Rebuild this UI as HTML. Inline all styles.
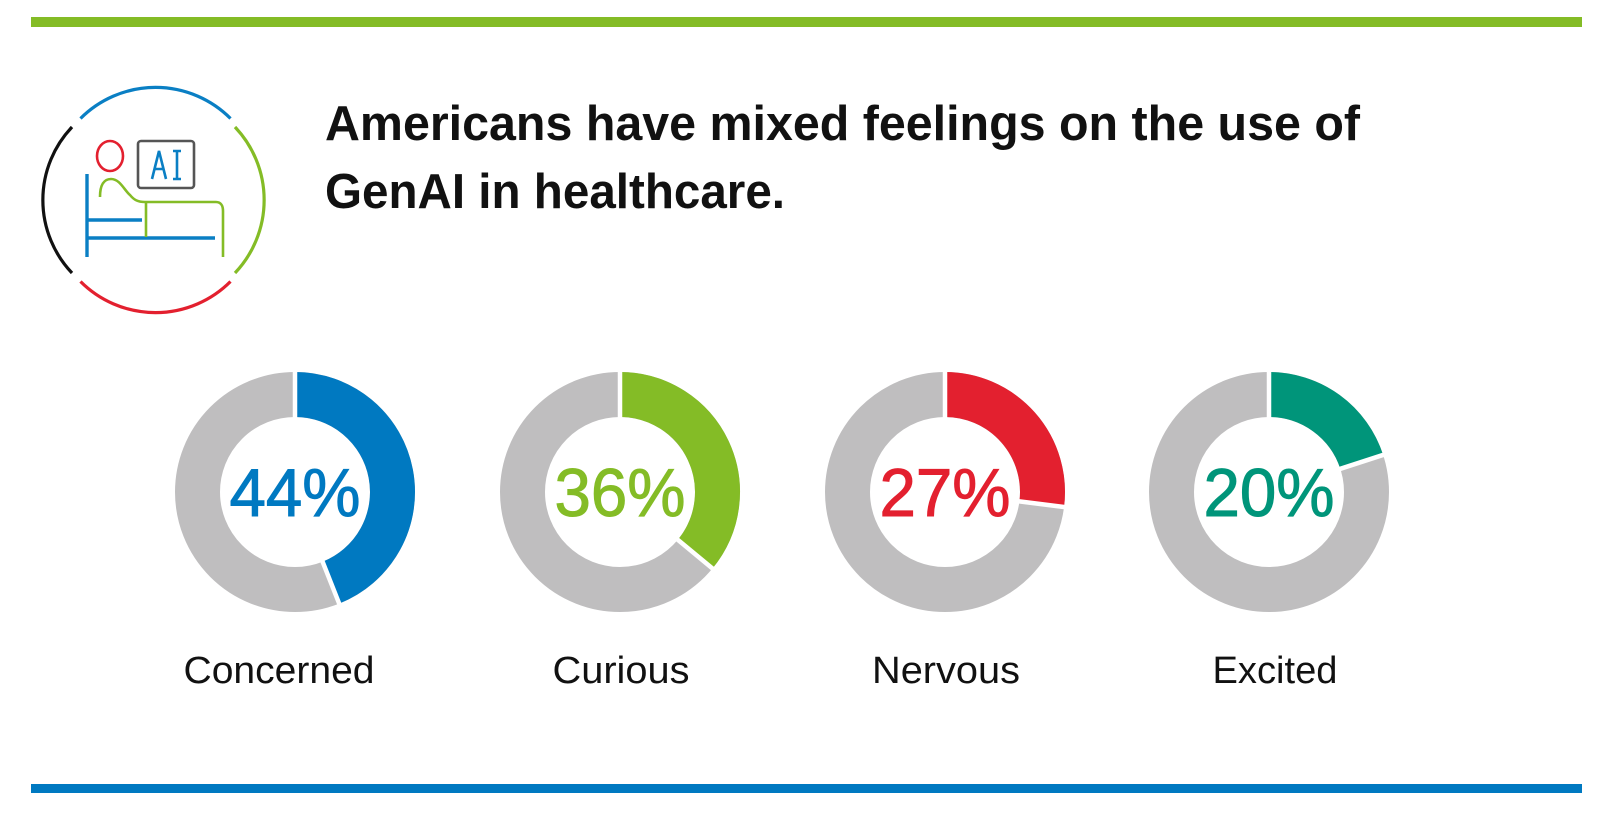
<!DOCTYPE html>
<html><head><meta charset="utf-8"><style>html,body{margin:0;padding:0;background:#fff}svg{display:block}</style></head>
<body>
<svg width="1603" height="815" viewBox="0 0 1603 815" xmlns="http://www.w3.org/2000/svg" font-family="'Liberation Sans', sans-serif">
<rect x="31" y="17" width="1551" height="10" fill="#84bc26"/>
<rect x="31" y="784" width="1551" height="9" fill="#0079c1"/>
<!-- icon -->
<g fill="none" stroke-width="3.2">
<path d="M80.5,118.5 A106,106 0 0 1 230.5,118.5" stroke="#0a7fc4"/>
<path d="M235,127 A106,106 0 0 1 235,273" stroke="#84bc26"/>
<path d="M230.5,281.5 A106,106 0 0 1 80.5,281.5" stroke="#e3202f"/>
<path d="M72,273 A106,106 0 0 1 72,127" stroke="#111"/>
<ellipse cx="110" cy="156" rx="13" ry="15" stroke="#e3202f" stroke-width="2.6"/>
<rect x="138" y="141" width="56" height="47" rx="3" stroke="#555" stroke-width="2.6"/>
<path d="M87,174 V257 M87,220 H142 M87,238 H215" stroke="#0a7fc4" stroke-width="3.4"/>
<path d="M100,197 C100,185 104,179 111,179 C120,179 124,190 130,195 C134,200 138,202 145,202 H216 C221,202 223,206 223,211 V257 M146,202 V237" stroke="#84bc26" stroke-width="2.6"/>
<path d="M152,179 L159,151 L166,179 M154.5,169 H163.5 M177,151 V179 M173,151 H181 M173,179 H181" stroke="#0a7fc4" stroke-width="2.6"/>
</g>
<!-- title -->
<text x="325" y="140" font-size="49" font-weight="bold" fill="#111" textLength="1035" lengthAdjust="spacingAndGlyphs">Americans have mixed feelings on the use of</text>
<text x="325" y="208" font-size="49" font-weight="bold" fill="#111" textLength="460" lengthAdjust="spacingAndGlyphs">GenAI in healthcare.</text>
<g id="donuts"></g>
</svg>
<script>
(function(){
var ns="http://www.w3.org/2000/svg",g=document.getElementById("donuts");
var d=[[295,44,"#0079c1","44%","Concerned",191,279],[620,36,"#84bc26","36%","Curious",137,621],[945,27,"#e3202f","27%","Nervous",148,946],[1269,20,"#00957a","20%","Excited",125,1275]];
var cy=492,R=120,r=75,rm=(R+r)/2,w=R-r;
function el(t,a,tx){var e=document.createElementNS(ns,t);for(var k in a)e.setAttribute(k,a[k]);if(tx)e.textContent=tx;g.appendChild(e);return e;}
d.forEach(function(o){
var cx=o[0],p=o[1]/100,ang=p*2*Math.PI;
el("circle",{cx:cx,cy:cy,r:rm,fill:"none",stroke:"#bfbebf","stroke-width":w});
var x1=cx,y1=cy-rm,x2=cx+rm*Math.sin(ang),y2=cy-rm*Math.cos(ang);
el("path",{d:"M"+x1+","+y1+" A"+rm+","+rm+" 0 "+(p>0.5?1:0)+" 1 "+x2+","+y2,fill:"none",stroke:o[2],"stroke-width":w});
[0,ang].forEach(function(a){el("line",{x1:cx+(r-2)*Math.sin(a),y1:cy-(r-2)*Math.cos(a),x2:cx+(R+2)*Math.sin(a),y2:cy-(R+2)*Math.cos(a),stroke:"#fff","stroke-width":4.5});});
el("text",{x:cx,y:516,"font-size":68,fill:o[2],stroke:o[2],"stroke-width":1,"text-anchor":"middle",textLength:131,lengthAdjust:"spacingAndGlyphs"},o[3]);
el("text",{x:o[6],y:683,"font-size":38,fill:"#111","text-anchor":"middle",textLength:o[5],lengthAdjust:"spacingAndGlyphs"},o[4]);
});
})();
</script>
</body></html>
